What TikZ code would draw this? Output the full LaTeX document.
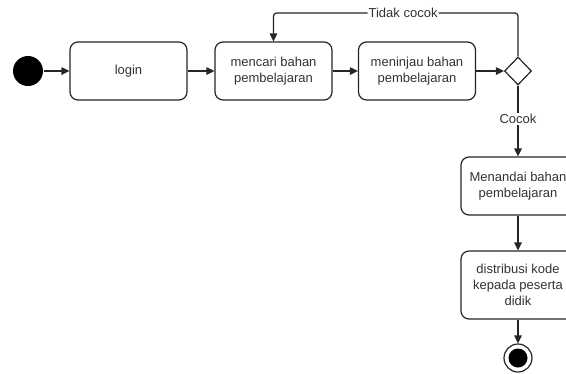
\documentclass[tikz,border=0pt]{standalone}
\usepackage{fontspec}
\setmainfont{Liberation Sans}
\usetikzlibrary{arrows.meta,shapes.geometric}
\begin{document}
\begin{tikzpicture}[x=1pt,y=-1pt,
  line width=1.2pt,
  every node/.style={font=\fontsize{13}{16}\selectfont, text=black!80},
  act/.style={draw=black!85, rounded corners=8pt, minimum width=117pt, minimum height=58pt, align=center, inner sep=2pt},
  flow/.style={draw=black!85, -{Triangle[length=8pt,width=7.5pt]}},
  lbl/.style={fill=white, inner sep=1pt}]
\clip (0,0) rectangle (566,373);
\fill[white] (0,0) rectangle (566,373);
\node[circle, fill=black, minimum size=30pt, inner sep=0] (start) at (28,71) {};
\node[act] (login) at (128.5,71) {login};
\node[act] (cari) at (273.5,71) {mencari bahan\\pembelajaran};
\node[act] (tinjau) at (417,71) {meninjau bahan\\pembelajaran};
\node[diamond, draw=black!85, minimum width=27pt, minimum height=28pt, inner sep=0, fill=white] (dec) at (518,71) {};
\node[act, minimum width=114pt] (tandai) at (518,186) {Menandai bahan\\pembelajaran};
\node[act, minimum width=114pt, minimum height=68pt] (dist) at (518,285) {distribusi kode\\kepada peserta\\didik};
\node[circle, draw=black!85, minimum size=28pt, inner sep=0] (end) at (518,358) {};
\node[circle, fill=black, minimum size=19pt, inner sep=0] at (end) {};
\coordinate (tr) at (518,13);
\coordinate (tl) at (273.5,13);
\draw[flow] (start) -- (login);
\draw[flow] (login) -- (cari);
\draw[flow] (cari) -- (tinjau);
\draw[flow] (tinjau) -- (dec);
\draw[flow, rounded corners=3pt] (dec.north) -- (tr) -- node[lbl, pos=0.47] {Tidak cocok} (tl) -- (cari.north);
\draw[flow] (dec.south) -- node[lbl, pos=0.47] {Cocok} (tandai.north);
\draw[flow] (tandai) -- (dist);
\draw[flow] (dist) -- (end);
\end{tikzpicture}
\end{document}
